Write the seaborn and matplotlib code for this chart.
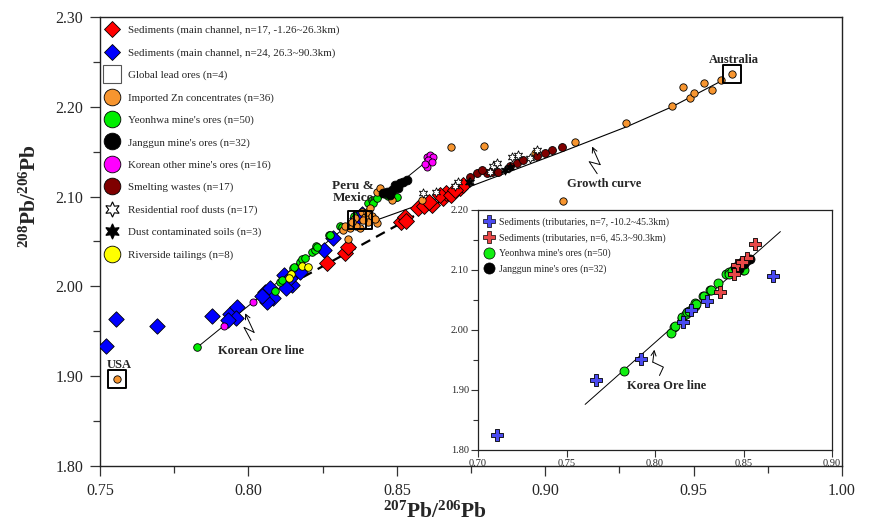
"""
Pb isotope ratio plot (208Pb/206Pb vs 207Pb/206Pb) with tributary inset
"""

import numpy as np
import matplotlib
matplotlib.use("Agg")
import matplotlib.pyplot as plt
from matplotlib.lines import Line2D
from matplotlib.ticker import MultipleLocator, FormatStrFormatter
import seaborn as sns

sns.set_style("ticks")
plt.rcParams["font.family"] = ["Liberation Serif", "DejaVu Serif"]
plt.rcParams["mathtext.fontset"] = "custom"
plt.rcParams["mathtext.rm"] = "Liberation Serif"
plt.rcParams["mathtext.bf"] = "Liberation Serif:bold"

# --- data (207Pb/206Pb, 208Pb/206Pb) ---
sed_red_x = [0.8265, 0.8325, 0.8336, 0.8514, 0.8528, 0.8571, 0.8592, 0.8619, 0.8656,
             0.8666, 0.8713, 0.8723, 0.8531, 0.8608, 0.8646, 0.8683, 0.8696]
sed_red_y = [2.0259, 2.0371, 2.0438, 2.0718, 2.0774, 2.0875, 2.0897, 2.0908, 2.0987,
             2.1042, 2.1098, 2.1132, 2.0729, 2.0942, 2.1020, 2.1020, 2.1076]

sed_blue_x = [0.7520, 0.7554, 0.7692, 0.7877, 0.7938, 0.7962, 0.7958, 0.8056, 0.8073,
              0.8083, 0.8063, 0.8120, 0.8133, 0.8147, 0.8164, 0.8140, 0.8255, 0.8285,
              0.8366, 0.8383, 0.7931, 0.8046, 0.8174, 0.8127]
sed_blue_y = [1.9340, 1.9633, 1.9555, 1.9667, 1.9689, 1.9767, 1.9644, 1.9935, 1.9980,
              1.9868, 1.9823, 2.0125, 2.0036, 2.0013, 2.0181, 2.0092, 2.0405, 2.0539,
              2.0763, 2.0808, 1.9622, 1.9890, 2.0159, 1.9980]

global_names = ["USA", "Peru", "Mexico", "Australia"]
global_x = [0.7557, 0.8366, 0.8386, 0.9629]
global_y = [1.8973, 2.0740, 2.0740, 2.2362]

zn_x = [0.7557, 0.9629, 0.9100, 0.9272, 0.9427, 0.9464, 0.9488, 0.9501, 0.9535, 0.9562,
        0.9592, 0.9060, 0.8683, 0.8794, 0.8966, 0.8585, 0.8433, 0.8484, 0.8336, 0.8383,
        0.8393, 0.8403, 0.8342, 0.8319, 0.8376, 0.8433, 0.8359, 0.8400, 0.8386, 0.8416,
        0.8363, 0.8443, 0.8325, 0.8410, 0.8349, 0.8427]
zn_y = [1.8973, 2.2362, 2.1613, 2.1825, 2.2004, 2.2217, 2.2094, 2.2150, 2.2262, 2.2183,
        2.2295, 2.0953, 2.1557, 2.1568, 2.1490, 2.0964, 2.1054, 2.0964, 2.0528, 2.0830,
        2.0774, 2.0718, 2.0651, 2.0629, 2.0651, 2.0707, 2.0763, 2.0830, 2.0740, 2.0785,
        2.0673, 2.1098, 2.0673, 2.0875, 2.0718, 2.0752]

yeonhwa_x = [0.7827, 0.8106, 0.8090, 0.8113, 0.8150, 0.8153, 0.8174, 0.8180, 0.8191,
             0.8214, 0.8224, 0.8226, 0.8231, 0.8270, 0.8275, 0.8310, 0.8315, 0.8356,
             0.8403, 0.8418, 0.8420, 0.8433, 0.8470, 0.8497, 0.8501, 0.8460]
yeonhwa_y = [1.9320, 2.0047, 1.9950, 2.0070, 2.0203, 2.0220, 2.0271, 2.0300, 2.0315,
             2.0382, 2.0405, 2.0450, 2.0438, 2.0570, 2.0573, 2.0670, 2.0662, 2.0780,
             2.0931, 2.0967, 2.0931, 2.0987, 2.1010, 2.1000, 2.0998, 2.1030]

janggun_x = [0.8454, 0.8467, 0.8484, 0.8494, 0.8511, 0.8521, 0.8534, 0.8477, 0.8504]
janggun_y = [2.1042, 2.1054, 2.1076, 2.1132, 2.1154, 2.1165, 2.1188, 2.1020, 2.1098]

korean_x = [0.8602, 0.8612, 0.8622, 0.8605, 0.8619, 0.8602, 0.8595, 0.7918, 0.8016]
korean_y = [2.1445, 2.1467, 2.1445, 2.1412, 2.1389, 2.1333, 2.1367, 1.9555, 1.9823]

smelt_x = [0.8770, 0.8804, 0.8821, 0.8841, 0.8905, 0.8972, 0.9023, 0.9057, 0.8747,
           0.8787, 0.8881, 0.8925, 0.8999]
smelt_y = [2.1266, 2.1266, 2.1277, 2.1277, 2.1378, 2.1456, 2.1523, 2.1557, 2.1221,
           2.1300, 2.1344, 2.1412, 2.1490]

roof_x = [0.8588, 0.8632, 0.8706, 0.8747, 0.8824, 0.8838, 0.8888, 0.8908, 0.8949,
          0.8972, 0.8814, 0.8696]
roof_y = [2.1042, 2.1054, 2.1165, 2.1165, 2.1344, 2.1378, 2.1445, 2.1467, 2.1434,
          2.1523, 2.1277, 2.1121]

soil_x = [0.8865, 0.8881, 0.8743]
soil_y = [2.1300, 2.1333, 2.1165]

tail_x = [0.8181, 0.8201, 0.8144, 0.8137]
tail_y = [2.0226, 2.0215, 2.0136, 2.0092]

# reference lines
ore_line_x = [0.7827, 0.8622]
ore_line_y = [1.9320, 2.1450]
growth_x = [0.8416, 0.8737, 0.9050, 0.9276, 0.9427, 0.9589]
growth_y = [2.0720, 2.1100, 2.1490, 2.1780, 2.2000, 2.2280]
dash_x = [0.8184, 0.8737]
dash_y = [2.0103, 2.1110]

# inset: tributary sediments
trib_blue_x = [0.7108, 0.7664, 0.7919, 0.8160, 0.8202, 0.8292, 0.8666]
trib_blue_y = [1.8251, 1.9159, 1.9521, 2.0133, 2.0328, 2.0484, 2.0896]
trib_red_x = [0.8566, 0.8519, 0.8462, 0.8447, 0.8368, 0.8491]
trib_red_y = [2.1431, 2.1192, 2.1080, 2.0930, 2.0635, 2.1136]
inset_line_x = [0.7605, 0.8708]
inset_line_y = [1.8760, 2.1640]

RED = "#ff0000"
BLUE = "#0000ff"
ORANGE = "#f7952f"
GREEN = "#00ee00"
MAGENTA = "#ff00ff"
DARKRED = "#7f0000"
YELLOW = "#ffff00"
STAR6 = (6, 1, 0)


def dots(ax, xs, ys, marker, s, color, z, lw=0.6, ec="black"):
    sns.scatterplot(x=xs, y=ys, ax=ax, marker=marker, s=s, color=color,
                    edgecolor=ec, linewidth=lw, zorder=z, legend=False)


def zigzag(ax, xs, ys):
    ax.plot(xs[:-1], ys[:-1], color="black", lw=0.7, zorder=6)
    ax.annotate("", xy=(xs[-1], ys[-1]), xytext=(xs[-2], ys[-2]),
                arrowprops=dict(arrowstyle="->", lw=0.7, color="black",
                                shrinkA=0, shrinkB=0, mutation_scale=9),
                zorder=6)


fig = plt.figure(figsize=(8.69, 5.26), dpi=100)
ax = fig.add_axes([0.1151, 0.1141, 0.8539, 0.8536])

# lines
ax.plot(ore_line_x, ore_line_y, color="black", lw=0.7, zorder=2)
ax.plot(growth_x, growth_y, color="black", lw=0.8, zorder=2)
ax.plot(dash_x, dash_y, color="black", lw=1.6, ls=(0, (4.5, 3)), zorder=2)

# points
dots(ax, sed_blue_x, sed_blue_y, "D", 62, BLUE, 3)
dots(ax, sed_red_x, sed_red_y, "D", 66, RED, 3)
dots(ax, yeonhwa_x, yeonhwa_y, "o", 30, GREEN, 4)
dots(ax, tail_x, tail_y, "o", 30, YELLOW, 4)
dots(ax, zn_x, zn_y, "o", 28, ORANGE, 4)
dots(ax, janggun_x, janggun_y, "o", 40, "black", 5)
dots(ax, korean_x, korean_y, "o", 26, MAGENTA, 5)
dots(ax, smelt_x, smelt_y, "o", 32, DARKRED, 5)
dots(ax, roof_x, roof_y, STAR6, 45, "white", 6)
dots(ax, soil_x, soil_y, STAR6, 45, "black", 6)
dots(ax, global_x, global_y, "s", 170, "none", 7, lw=1.4)

# annotations
txt = dict(fontsize=9, fontweight="bold", ha="center", va="center", zorder=8)
ax.text(0.8042, 1.9286, "Korean Ore line", **txt)
ax.text(0.9198, 2.1143, "Growth curve", **txt)
ax.text(0.9636, 2.2519, "Australia", **txt)
ax.text(0.7564, 1.9130, "USA", **txt)
ax.text(0.8352, 2.1050, "Peru &\nMexico", fontsize=9.5, fontweight="bold",
        ha="center", va="center", linespacing=1.0, zorder=8)
zigzag(ax, [0.8009, 0.7985, 0.8019, 0.7989], [1.9398, 1.9544, 1.9488, 1.9700])
zigzag(ax, [0.9175, 0.9148, 0.9185, 0.9158], [2.1255, 2.1389, 2.1356, 2.1557])

ax.set_xlim(0.75, 1.00)
ax.set_ylim(1.80, 2.30)
ax.xaxis.set_major_locator(MultipleLocator(0.05))
ax.xaxis.set_minor_locator(MultipleLocator(0.025))
ax.yaxis.set_major_locator(MultipleLocator(0.1))
ax.yaxis.set_minor_locator(MultipleLocator(0.05))
ax.xaxis.set_major_formatter(FormatStrFormatter("%.2f"))
ax.yaxis.set_major_formatter(FormatStrFormatter("%.2f"))
ax.tick_params(which="major", direction="out", length=7, width=0.9, labelsize=11.5,
               pad=5, color="#333333")
ax.tick_params(which="minor", direction="out", length=5, width=0.9, color="#333333")
for sp in ax.spines.values():
    sp.set_linewidth(1.0)
    sp.set_color("#222222")

ax.set_xlabel(r"$\mathbf{^{207}Pb/^{206}Pb}$", fontsize=15.5)
ax.set_ylabel(r"$\mathbf{^{208}Pb/^{206}Pb}$", fontsize=15.5)
ax.xaxis.set_label_coords(0.4515, -0.080)
ax.yaxis.set_label_coords(-0.080, 0.60)

# main legend
handles = [
    Line2D([], [], ls="", marker="D", ms=8.5, mfc=RED, mec="black", mew=0.6,
           label="Sediments (main channel, n=17, -1.26~26.3km)"),
    Line2D([], [], ls="", marker="D", ms=8.5, mfc=BLUE, mec="black", mew=0.6,
           label="Sediments (main channel, n=24, 26.3~90.3km)"),
    Line2D([], [], ls="", marker="s", ms=13, mfc="white", mec="#555555", mew=0.8,
           label="Global lead ores (n=4)"),
    Line2D([], [], ls="", marker="o", ms=12, mfc=ORANGE, mec="black", mew=0.6,
           label="Imported Zn concentrates (n=36)"),
    Line2D([], [], ls="", marker="o", ms=12, mfc=GREEN, mec="black", mew=0.6,
           label="Yeonhwa mine's ores (n=50)"),
    Line2D([], [], ls="", marker="o", ms=12, mfc="black", mec="black", mew=0.6,
           label="Janggun mine's ores (n=32)"),
    Line2D([], [], ls="", marker="o", ms=12, mfc=MAGENTA, mec="black", mew=0.6,
           label="Korean other mine's ores (n=16)"),
    Line2D([], [], ls="", marker="o", ms=12, mfc=DARKRED, mec="black", mew=0.6,
           label="Smelting wastes (n=17)"),
    Line2D([], [], ls="", marker=STAR6, ms=11, mfc="white", mec="black", mew=0.8,
           label="Residential roof dusts (n=17)"),
    Line2D([], [], ls="", marker=STAR6, ms=11, mfc="black", mec="black", mew=0.8,
           label="Dust contaminated soils (n=3)"),
    Line2D([], [], ls="", marker="o", ms=12, mfc=YELLOW, mec="black", mew=0.6,
           label="Riverside tailings (n=8)"),
]
ax.legend(handles=handles, loc="upper left", bbox_to_anchor=(0.002, 0.991),
          frameon=False, fontsize=7.9, labelspacing=1.14, handlelength=1.2,
          handletextpad=0.8, borderaxespad=0.0)

# inset
ins = fig.add_axes([0.5501, 0.1445, 0.4074, 0.4563])
ins.plot(inset_line_x, inset_line_y, color="black", lw=0.7, zorder=2)
dots(ins, yeonhwa_x, yeonhwa_y, "o", 42, "#11ee11", 3)
dots(ins, janggun_x, janggun_y, "o", 42, "black", 4)
dots(ins, trib_blue_x, trib_blue_y, "P", 80, "#4a4af0", 5, lw=0.6)
dots(ins, trib_red_x, trib_red_y, "P", 80, "#e84848", 5, lw=0.6)
ins.text(0.8066, 1.9064, "Korea Ore line", fontsize=9, fontweight="bold",
         ha="center", va="center")
zigzag(ins, [0.8025, 0.8047, 0.7987, 0.7996], [1.9242, 1.9381, 1.9465, 1.9671])

ins.set_xlim(0.70, 0.90)
ins.set_ylim(1.80, 2.20)
ins.xaxis.set_major_locator(MultipleLocator(0.05))
ins.yaxis.set_major_locator(MultipleLocator(0.1))
ins.yaxis.set_minor_locator(MultipleLocator(0.05))
ins.xaxis.set_major_formatter(FormatStrFormatter("%.2f"))
ins.yaxis.set_major_formatter(FormatStrFormatter("%.2f"))
ins.tick_params(which="major", direction="out", length=5, width=0.8, labelsize=7.5,
                pad=1.5, color="#333333")
ins.tick_params(which="minor", direction="out", length=3.5, width=0.8, color="#333333")
for sp in ins.spines.values():
    sp.set_linewidth(0.9)
    sp.set_color("#222222")

ins_handles = [
    Line2D([], [], ls="", marker="P", ms=9, mfc="#4a4af0", mec="black", mew=0.5,
           label="Sediments (tributaries, n=7, -10.2~45.3km)"),
    Line2D([], [], ls="", marker="P", ms=9, mfc="#e84848", mec="black", mew=0.5,
           label="Sediments (tributaries, n=6, 45.3~90.3km)"),
    Line2D([], [], ls="", marker="o", ms=8, mfc="#11ee11", mec="black", mew=0.5,
           label="Yeonhwa mine's ores (n=50)"),
    Line2D([], [], ls="", marker="o", ms=8, mfc="black", mec="black", mew=0.5,
           label="Janggun mine's ores (n=32)"),
]
ins.legend(handles=ins_handles, loc="upper left", bbox_to_anchor=(0.005, 0.985),
           frameon=False, fontsize=7.0, labelspacing=0.62, handlelength=1.0,
           handletextpad=0.6, borderaxespad=0.0)

fig.savefig("out.png", dpi=100)
